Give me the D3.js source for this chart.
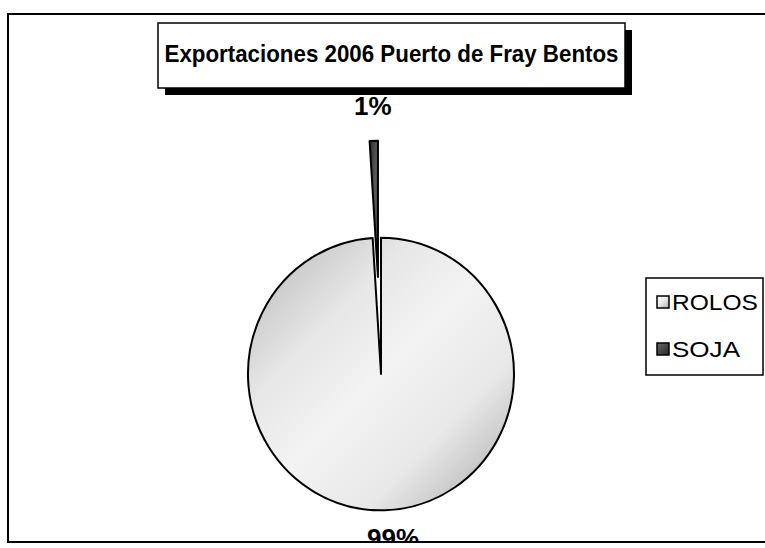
<!DOCTYPE html>
<html>
<head>
<meta charset="utf-8">
<script src="https://cdn.jsdelivr.net/npm/d3@7"></script>
<style>
  html, body { margin: 0; padding: 0; background: #fff; }
  svg { display: block; }
</style>
</head>
<body>
<svg id="chart" width="765" height="548"></svg>
<script>
const title = "Exportaciones 2006 Puerto de Fray Bentos";
const categories = ["ROLOS", "SOJA"];
const values = [99, 1];
const labels = ["99%", "1%"];
const explode = [0, 97];

const svg = d3.select("#chart");
const W = 765, H = 548;
const font = "'Liberation Sans', Arial, sans-serif";

const defs = svg.append("defs");
const gLight = defs.append("linearGradient").attr("id", "gLight")
  .attr("x1", "0").attr("y1", "0").attr("x2", "1").attr("y2", "1");
[[0, "#b4b4b4"], [0.3, "#e6e6e6"], [0.5, "#f3f3f3"], [0.72, "#e8e8e8"], [1, "#a6a6a6"]]
  .forEach(([o, c]) => gLight.append("stop").attr("offset", o).attr("stop-color", c));
const gDark = defs.append("linearGradient").attr("id", "gDark")
  .attr("x1", "0").attr("y1", "0").attr("x2", "1").attr("y2", "1");
[[0, "#2e2e2e"], [0.5, "#5a5a5a"], [1, "#3a3a3a"]]
  .forEach(([o, c]) => gDark.append("stop").attr("offset", o).attr("stop-color", c));
const fills = ["url(#gLight)", "url(#gDark)"];

defs.append("clipPath").attr("id", "frameClip")
  .append("rect").attr("x", 8).attr("y", 14).attr("width", W).attr("height", 528);

svg.append("rect").attr("width", W).attr("height", H).attr("fill", "#fff");

const inner = svg.append("g").attr("clip-path", "url(#frameClip)");

// Pie
const cx = 381, cy = 374, r = 133, sy = 1.025;
const pie = d3.pie().sort(null).value(d => d)(values);
const arc = d3.arc().innerRadius(0).outerRadius(r);
const pg = inner.append("g").attr("transform", `translate(${cx},${cy}) scale(1,${sy})`);
pg.selectAll("path").data(pie).join("path")
  .attr("d", arc)
  .attr("transform", (d, i) => {
    const a = (d.startAngle + d.endAngle) / 2;
    return `translate(${Math.sin(a) * explode[i]},${-Math.cos(a) * explode[i] / sy})`;
  })
  .attr("fill", (d, i) => fills[i])
  .attr("stroke", "#000")
  .attr("stroke-width", 2)
  .attr("stroke-linejoin", "round");

// Data labels (centre of text placed beyond the slice edge)
const labelDist = [r + 27, r + 32];
const labelNudge = [7, 0];
inner.selectAll("text.lbl").data(pie).join("text")
  .attr("class", "lbl")
  .attr("x", (d, i) => {
    const a = (d.startAngle + d.endAngle) / 2;
    return cx + Math.sin(a) * (labelDist[i] + explode[i]) + labelNudge[i];
  })
  .attr("y", (d, i) => {
    const a = (d.startAngle + d.endAngle) / 2;
    return cy - Math.cos(a) * (labelDist[i] + explode[i]) * sy;
  })
  .attr("dy", "0.36em")
  .attr("text-anchor", "middle")
  .attr("font-family", font)
  .attr("font-weight", "bold")
  .attr("font-size", 26)
  .attr("fill", "#000")
  .text((d, i) => labels[i]);

// Title box
const tb = { x: 158, y: 23, w: 467, h: 65 };
svg.append("rect").attr("x", tb.x + 7).attr("y", tb.y + 7).attr("width", tb.w).attr("height", tb.h).attr("fill", "#000");
svg.append("rect").attr("x", tb.x).attr("y", tb.y).attr("width", tb.w).attr("height", tb.h)
  .attr("fill", "#fff").attr("stroke", "#000").attr("stroke-width", 1.5);
svg.append("text").attr("x", tb.x + tb.w / 2).attr("y", 62)
  .attr("text-anchor", "middle")
  .attr("font-family", font).attr("font-weight", "bold").attr("font-size", 24)
  .attr("textLength", 454).attr("lengthAdjust", "spacingAndGlyphs")
  .text(title);

// Legend
const lg = { x: 646, y: 278, w: 117, h: 97 };
svg.append("rect").attr("x", lg.x).attr("y", lg.y).attr("width", lg.w).attr("height", lg.h)
  .attr("fill", "#fff").attr("stroke", "#000").attr("stroke-width", 1.5);
const ly = d3.scalePoint().domain(categories).range([lg.y + 24, lg.y + 71]);
const gls = defs.append("linearGradient").attr("id", "gLightS").attr("x1", 0).attr("y1", 0).attr("x2", 1).attr("y2", 1);
[[0, "#ffffff"], [0.5, "#e8e8e8"], [1, "#a8a8a8"]].forEach(([o, c]) => gls.append("stop").attr("offset", o).attr("stop-color", c));
const gds = defs.append("linearGradient").attr("id", "gDarkS").attr("x1", 0).attr("y1", 0).attr("x2", 1).attr("y2", 1);
[[0, "#6a6a6a"], [0.5, "#484848"], [1, "#2a2a2a"]].forEach(([o, c]) => gds.append("stop").attr("offset", o).attr("stop-color", c));
const legSwatchFills = ["url(#gLightS)", "url(#gDarkS)"];
const textLens = [86, 68];
const items = svg.selectAll("g.leg").data(categories).join("g").attr("class", "leg")
  .attr("transform", d => `translate(${lg.x + 11},${ly(d)})`);
items.append("rect").attr("x", 0).attr("y", -6).attr("width", 12).attr("height", 12)
  .attr("fill", (d, i) => legSwatchFills[i]).attr("stroke", "#000").attr("stroke-width", 1.5);
items.append("text").attr("x", 15).attr("y", 8)
  .attr("font-family", font).attr("font-size", 22).attr("fill", "#000")
  .attr("textLength", (d, i) => textLens[i]).attr("lengthAdjust", "spacingAndGlyphs")
  .text(d => d);

// Chart frame
svg.append("path").attr("d", `M${W + 2},14 H8 V542 H${W + 2}`)
  .attr("fill", "none").attr("stroke", "#000").attr("stroke-width", 2);
</script>
</body>
</html>
